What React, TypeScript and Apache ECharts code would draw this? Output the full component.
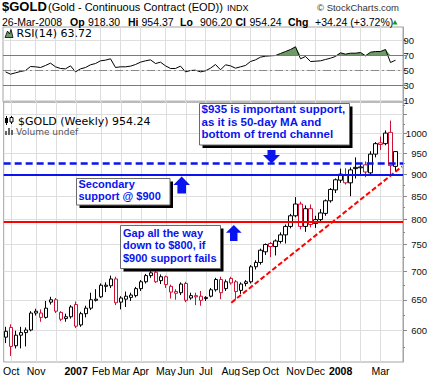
import { useEffect, useRef } from 'react';
import * as echarts from 'echarts';

// ---------- data (weekly bars, week of 2006-09-25 ... week of 2008-03-24) ----------
const firstWeekMonday = [2006, 8, 25];
const opens = [590, 605, 577, 593, 597, 601, 628, 628, 621, 646, 650, 629, 619, 622, 642, 609, 627, 636, 649, 655,
  673, 674, 686, 646, 651, 654, 657, 669, 681, 692, 698, 683, 690, 673, 664, 662, 678, 653, 657, 656,
  654, 656, 667, 685, 669, 687, 681, 666, 678, 681, 708, 716, 736, 752, 746, 756, 769, 786, 808, 833,
  786, 823, 792, 800, 813, 840, 864, 886, 897, 880, 916, 917, 922, 903, 948, 976, 974, 1003, 918.3];
const highs = [606, 610, 600, 606, 605, 631, 635, 634, 648, 655, 653, 631, 627, 641, 647, 630, 640, 662, 668, 678,
  680, 692, 690, 656, 664, 662, 672, 684, 695, 700, 701, 694, 692, 676, 668, 680, 681, 662, 662, 665,
  656, 670, 688, 690, 685, 690, 684, 680, 684, 711, 720, 742, 752, 755, 760, 774, 790, 812, 848, 838,
  830, 832, 808, 822, 843, 868, 890, 913, 914, 916, 940, 925, 930, 955, 978, 992, 1008, 1034, 954.37];
const lows = [581, 562, 573, 573, 576, 599, 624, 614, 619, 642, 628, 615, 614, 619, 604, 606, 621, 633, 647, 653,
  663, 670, 641, 634, 638, 648, 654, 665, 678, 688, 679, 677, 670, 652, 650, 658, 646, 650, 641, 640,
  648, 654, 664, 651, 665, 676, 650, 660, 673, 678, 703, 712, 730, 726, 729, 752, 752, 782, 805, 780,
  775, 784, 783, 795, 808, 836, 857, 880, 876, 850, 890, 898, 893, 897, 940, 958, 970, 900, 906.2];
const closes = [599, 576, 593, 597, 601, 628, 631, 621, 636, 650, 631, 618, 622, 638, 607, 627, 636, 650, 651, 675,
  675, 686, 645, 653, 656, 658, 669, 681, 692, 697, 681, 690, 676, 663, 661, 677, 649, 657, 655, 649,
  652, 667, 685, 662, 681, 679, 664, 677, 681, 708, 716, 739, 750, 746, 757, 769, 786, 808, 833, 786,
  823, 790, 800, 814, 840, 865, 887, 900, 880, 910, 913, 915, 905, 948, 974, 972, 1001, 920, 954.24];
const rsi14 = [48.2, 45.1, 46.9, 48.7, 50.0, 55.3, 54.9, 54.0, 56.7, 59.8, 54.9, 52.7, 52.2, 56.2, 48.2, 52.2, 54.0, 57.6, 59.3, 62.9,
  63.8, 65.6, 54.0, 54.9, 54.9, 55.8, 58.0, 61.1, 62.9, 64.2, 59.3, 61.1, 56.2, 52.7, 52.7, 55.8, 48.2, 50.0, 50.4, 48.2,
  49.6, 53.1, 58.0, 50.9, 57.6, 56.2, 53.1, 54.9, 56.7, 62.0, 64.2, 67.8, 69.1, 69.6, 70.0, 72.7, 75.3, 78.0, 81.6, 65.6,
  68.7, 62.0, 62.4, 62.9, 64.7, 66.4, 68.7, 73.6, 71.8, 73.1, 73.1, 74.0, 69.6, 74.4, 75.3, 75.3, 78.0, 60.7, 63.72];

const priceGridTicks = [600, 650, 700, 750, 800, 850, 900, 950, 1000, 1050];
const priceLabelTicks = [600, 650, 700, 750, 800, 850, 900, 950, 1000];
const priceMinorTicks = [575, 625, 675, 725, 775, 825, 875, 925, 975, 1025, 1075];
const rsiTicks = [10, 30, 50, 70, 90];
const monthGridWeeks = [1, 6, 10, 14, 19, 23, 27, 32, 36, 40, 45, 49, 53, 58, 62, 67, 71, 75];
const monthLabelWeeks = [1, 6, 14, 19, 23, 27, 32, 36, 40, 45, 49, 53, 58, 62, 67, 75];
const monthLabels = ['Oct', 'Nov', '2007', 'Feb', 'Mar', 'Apr', 'May', 'Jun', 'Jul', 'Aug', 'Sep', 'Oct', 'Nov', 'Dec', '2008', 'Mar'];

const support935 = 929;
const support900 = 900;
const support800 = 796;
const trendWeeks = [45.1, 79.3];
const trendPrices = [645, 918];

const priceMin = 553.2;
const priceMax = 1085;

// ---------- styling ----------
const RED = '#cc1133';
const BLUE = '#0a14ee';
const GRID = '#dedede';
const BORDER = '#a4a4a4';
const SANS = '"Liberation Sans", Arial, sans-serif';
const DEJA = '"DejaVu Sans", Verdana, sans-serif';

function weekCategories(): string[] {
  const out: string[] = [];
  for (let i = 0; i < closes.length; i++) {
    const d = new Date(firstWeekMonday[0], firstWeekMonday[1], firstWeekMonday[2] + 7 * i);
    out.push(`${d.getFullYear()}-${String(d.getMonth() + 1).padStart(2, '0')}-${String(d.getDate()).padStart(2, '0')}`);
  }
  out.push('');
  return out;
}

function txt(x: number, y: number, text: string, font: string, fill = '#000', extra: any = {}) {
  return { type: 'text', x, y, z: 101, silent: true, style: { text, font, fill, verticalAlign: 'middle', align: 'left', ...extra } };
}

function box(x: number, y: number, w: number, h: number) {
  return [
    { type: 'rect', z: 99, silent: true, shape: { x: x + 3, y: y + 3, width: w, height: h }, style: { fill: '#000' } },
    { type: 'rect', z: 100, silent: true, shape: { x, y, width: w, height: h }, style: { fill: '#fff', stroke: '#6a6a6a', lineWidth: 1 } },
  ];
}

function buildOption(): any {
  const cats = weekCategories();
  const L = Math.log;

  const candleData = closes.map((c, i) => {
    const o = opens[i];
    const prev = i > 0 ? closes[i - 1] : o;
    const col = c >= prev ? '#000000' : RED;
    return {
      value: [L(o), L(c), L(lows[i]), L(highs[i])],
      itemStyle: { color: '#ffffff', color0: col, borderColor: col, borderColor0: col, borderWidth: 1 },
    };
  });

  const rsiBase = rsi14.map(() => 70);
  const rsiOver = rsi14.map((v) => Math.max(v - 70, 0));

  const hiddenCat = (gridIndex: number) => ({
    type: 'category', gridIndex, data: cats, boundaryGap: true, position: 'bottom', show: false,
    axisLine: { show: false, onZero: false },
  });
  const overlayX = (gridIndex: number, labels: boolean) => ({
    type: 'value', gridIndex, min: -0.5, max: cats.length - 0.5, position: 'bottom',
    axisLine: { show: false, onZero: false },
    axisTick: { show: false, customValues: monthGridWeeks },
    splitLine: { show: true, lineStyle: { color: GRID, width: 1 } },
    axisLabel: labels
      ? {
          show: true,
          customValues: monthLabelWeeks,
          margin: 3,
          color: '#000',
          fontFamily: SANS,
          fontSize: 10.5,
          formatter: (v: number) => {
            const k = monthLabelWeeks.indexOf(Math.round(v));
            const s = k >= 0 ? monthLabels[k] : '';
            return /^\d{4}$/.test(s) ? `{b|${s}}` : s;
          },
          rich: { b: { fontWeight: 'bold', fontFamily: SANS, fontSize: 10.5, color: '#000' } },
        }
      : { show: false },
  });

  const graphic: any[] = [
    // header
    txt(2, 6.5, '$GOLD', `bold 13px ${SANS}`),
    txt(48, 7, '(Gold - Continuous Contract (EOD))', `11px ${SANS}`),
    txt(227, 7.5, 'INDX', `9px ${SANS}`),
    txt(317, 7, '© StockCharts.com', `9.5px ${SANS}`, '#333'),
    txt(2, 22, '26-Mar-2008', `10.5px ${SANS}`),
    txt(70, 22, 'Op', `bold 10.5px ${SANS}`),
    txt(88, 22, '918.30', `10.5px ${SANS}`),
    txt(128, 22, 'Hi', `bold 10.5px ${SANS}`),
    txt(141.5, 22, '954.37', `10.5px ${SANS}`),
    txt(180, 22, 'Lo', `bold 10.5px ${SANS}`),
    txt(200, 22, '906.20', `10.5px ${SANS}`),
    txt(235.5, 22, 'Cl', `bold 10.5px ${SANS}`),
    txt(249.5, 22, '954.24', `10.5px ${SANS}`),
    txt(288, 22, 'Chg', `bold 10.5px ${SANS}`),
    txt(315, 22, '+34.24 (+3.72%)', `10.5px ${SANS}`),
    { type: 'polygon', z: 101, silent: true, shape: { points: [[392.5, 24.5], [395, 20], [397.5, 24.5]] }, style: { fill: '#11a011' } },

    // RSI legend
    { type: 'polygon', z: 101, silent: true, shape: { points: [[5, 37.5], [7.5, 31], [9.5, 34], [11, 29.5], [13, 37.5]] }, style: { fill: '#6e9a66', stroke: '#000', lineWidth: 0.8 } },
    txt(16.5, 33.5, 'RSI(14) 63.72', `11px ${DEJA}`),

    // main legend
    { type: 'line', z: 101, silent: true, shape: { x1: 6.5, y1: 116, x2: 6.5, y2: 125 }, style: { stroke: '#000', lineWidth: 1 } },
    { type: 'rect', z: 101, silent: true, shape: { x: 5, y: 118, width: 3, height: 5 }, style: { fill: '#000' } },
    { type: 'line', z: 101, silent: true, shape: { x1: 11.5, y1: 116, x2: 11.5, y2: 124 }, style: { stroke: '#000', lineWidth: 1 } },
    { type: 'rect', z: 101, silent: true, shape: { x: 10, y: 117.5, width: 3, height: 4.5 }, style: { fill: '#fff', stroke: '#000', lineWidth: 1 } },
    txt(18, 121, '$GOLD (Weekly) 954.24', `11px ${DEJA}`),
    { type: 'rect', z: 101, silent: true, shape: { x: 5, y: 131, width: 2, height: 4 }, style: { fill: '#666' } },
    { type: 'rect', z: 101, silent: true, shape: { x: 8, y: 128, width: 2, height: 7 }, style: { fill: '#666' } },
    { type: 'rect', z: 101, silent: true, shape: { x: 11, y: 130, width: 2, height: 5 }, style: { fill: '#666' } },
    txt(16, 131.5, 'Volume undef', `9px ${DEJA}`, '#555'),

    // annotation boxes
    ...box(199.5, 103.5, 150, 41.5),
    { type: 'text', z: 102, silent: true, x: 201.5, y: 103, style: { text: '$935 is important support,\nas it is 50-day MA and\nbottom of trend channel', font: `bold 11.5px ${SANS}`, fill: BLUE, lineHeight: 12.5, verticalAlign: 'top', align: 'left' } },
    ...box(76.5, 178.5, 93.5, 26.5),
    { type: 'text', z: 102, silent: true, x: 78.5, y: 177.5, style: { text: 'Secondary\nsupport @ $900', font: `bold 11px ${SANS}`, fill: BLUE, lineHeight: 12.5, verticalAlign: 'top', align: 'left' } },
    ...box(120.5, 225.5, 100, 43),
    { type: 'text', z: 102, silent: true, x: 123, y: 226.5, style: { text: 'Gap all the way\ndown to $800, if\n$900 support fails', font: `bold 11px ${SANS}`, fill: BLUE, lineHeight: 12.5, verticalAlign: 'top', align: 'left' } },

    // arrows
    { type: 'polygon', z: 100, silent: true, shape: { points: [[267.5, 150], [275.5, 150], [275.5, 155], [280, 155], [271.5, 163.5], [263, 155], [267.5, 155]] }, style: { fill: BLUE } },
    { type: 'polygon', z: 100, silent: true, shape: { points: [[181.7, 176.5], [190, 185], [186, 185], [186, 193.5], [177.4, 193.5], [177.4, 185], [173.4, 185]] }, style: { fill: BLUE } },
    { type: 'polygon', z: 100, silent: true, shape: { points: [[233.8, 225], [241.7, 232.7], [237.5, 232.7], [237.5, 241], [230, 241], [230, 232.7], [226, 232.7]] }, style: { fill: BLUE } },
  ];

  return {
    animation: false,
    backgroundColor: '#ffffff',
    grid: [
      { left: 3, top: 27, width: 400, height: 75, show: true, borderColor: BORDER, borderWidth: 1, backgroundColor: 'transparent' },
      { left: 3, top: 102, width: 400, height: 260, show: true, borderColor: BORDER, borderWidth: 1, backgroundColor: 'transparent' },
    ],
    xAxis: [hiddenCat(0), overlayX(0, false), hiddenCat(1), overlayX(1, true)],
    yAxis: [
      {
        type: 'value', gridIndex: 0, position: 'right', min: 8, max: 108,
        axisLine: { show: true, onZero: false, lineStyle: { color: BORDER } },
        axisTick: { show: true, length: 3, customValues: rsiTicks, lineStyle: { color: '#888' } },
        axisLabel: { customValues: rsiTicks, align: 'right', margin: 11, fontSize: 9.5, fontFamily: SANS, color: '#111' },
        splitLine: { show: true, lineStyle: { color: GRID } },
      },
      {
        type: 'value', gridIndex: 1, position: 'right', min: Math.log(priceMin), max: Math.log(priceMax),
        axisLine: { show: true, onZero: false, lineStyle: { color: BORDER } },
        axisTick: { show: true, length: 4, customValues: priceGridTicks.map((p) => Math.log(p)), lineStyle: { color: '#888' } },
        axisLabel: {
          customValues: priceLabelTicks.map((p) => Math.log(p)),
          formatter: (v: number) => String(Math.round(Math.exp(v))),
          align: 'right', margin: 24, fontSize: 9.5, fontFamily: SANS, color: '#111',
        },
        splitLine: { show: true, lineStyle: { color: GRID } },
      },
      {
        type: 'value', gridIndex: 1, position: 'right', min: Math.log(priceMin), max: Math.log(priceMax),
        axisLine: { show: false, onZero: false },
        axisTick: { show: true, length: 2, customValues: priceMinorTicks.map((p) => Math.log(p)), lineStyle: { color: '#888' } },
        axisLabel: { show: false },
        splitLine: { show: false },
      },
    ],
    series: [
      {
        type: 'line', xAxisIndex: 0, yAxisIndex: 0, data: rsiBase, stack: 'ob', symbol: 'none', silent: true,
        lineStyle: { opacity: 0, width: 0 },
      },
      {
        type: 'line', xAxisIndex: 0, yAxisIndex: 0, data: rsiOver, stack: 'ob', symbol: 'none', silent: true,
        lineStyle: { opacity: 0, width: 0 }, areaStyle: { color: '#6f9a68', opacity: 1 },
      },
      {
        type: 'line', xAxisIndex: 0, yAxisIndex: 0, data: rsi14, symbol: 'none', silent: true,
        lineStyle: { color: '#000', width: 1 },
        markLine: {
          silent: true, symbol: 'none', label: { show: false },
          data: [
            { yAxis: 70, lineStyle: { color: '#7a7a7a', width: 1, type: 'solid' } },
            { yAxis: 30, lineStyle: { color: '#7a7a7a', width: 1, type: 'solid' } },
            { yAxis: 50, lineStyle: { color: '#8a8a8a', width: 1, type: [8, 3, 2, 3] } },
          ],
        },
      },
      {
        type: 'candlestick', xAxisIndex: 2, yAxisIndex: 1, data: candleData, barWidth: 4, silent: true,
        markLine: {
          silent: true, symbol: 'none', label: { show: false },
          data: [
            { yAxis: Math.log(support935), lineStyle: { color: BLUE, width: 2.5, type: [7, 4] } },
            { yAxis: Math.log(support900), lineStyle: { color: BLUE, width: 2, type: 'solid' } },
            { yAxis: Math.log(support800), lineStyle: { color: '#ff0000', width: 2, type: 'solid' } },
          ],
        },
      },
      {
        type: 'line', xAxisIndex: 3, yAxisIndex: 1, symbol: 'none', silent: true, z: 4,
        data: trendWeeks.map((w, i) => [w, Math.log(trendPrices[i])]),
        lineStyle: { color: '#ff0000', width: 2, type: [5, 2.5] },
      },
    ],
    graphic,
  };
}

export default function App() {
  const ref = useRef<HTMLDivElement>(null);
  useEffect(() => {
    if (!ref.current) return;
    const chart = echarts.init(ref.current, undefined, { renderer: 'svg' });
    chart.setOption(buildOption());
    return () => chart.dispose();
  }, []);
  return <div ref={ref} style={{ position: 'absolute', left: 0, top: 0, width: 432, height: 376, background: '#fff' }} />;
}
